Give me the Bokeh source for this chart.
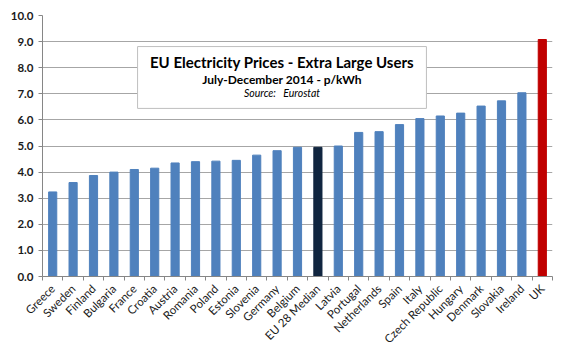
import math
from bokeh.plotting import figure
from bokeh.models import ColumnDataSource, FixedTicker, BoxAnnotation, Label, Range1d, PrintfTickFormatter
from bokeh.embed import file_html
from bokeh.resources import INLINE

countries = ["Greece", "Sweden", "Finland", "Bulgaria", "France", "Croatia", "Austria",
             "Romania", "Poland", "Estonia", "Slovenia", "Germany", "Belgium", "EU 28 Median",
             "Latvia", "Portugal", "Netherlands", "Spain", "Italy", "Czech Republic",
             "Hungary", "Denmark", "Slovakia", "Ireland", "UK"]
prices = [3.24, 3.60, 3.87, 4.00, 4.10, 4.15, 4.35, 4.40, 4.42, 4.45, 4.65, 4.82, 4.95, 4.95,
          5.00, 5.52, 5.55, 5.82, 6.05, 6.15, 6.26, 6.53, 6.73, 7.04, 9.08]
y_ticks = [0, 1, 2, 3, 4, 5, 6, 7, 8, 9, 10]

BLUE = "#4F81BD"
NAVY = "#10253F"
RED = "#C00000"
colors = [NAVY if c == "EU 28 Median" else (RED if c == "UK" else BLUE) for c in countries]

xs = list(range(len(countries)))
src = ColumnDataSource(dict(x=xs, top=prices, color=colors, name=countries))

FONT = "Lato"
p = figure(width=567, height=353, output_backend="svg", toolbar_location=None,
           x_range=Range1d(-0.5, len(countries) - 0.5), y_range=Range1d(0, 10),
           min_border_left=42, min_border_right=15, min_border_top=15, min_border_bottom=77)
p.vbar(x="x", top="top", width=0.4, color="color", source=src)

p.outline_line_color = None
p.background_fill_color = "white"
p.border_fill_color = "white"

# grid
p.xgrid.grid_line_color = None
p.ygrid.grid_line_color = "#A6A6A6"
p.ygrid.ticker = FixedTicker(ticks=y_ticks)

# y axis
p.yaxis.ticker = FixedTicker(ticks=y_ticks)
p.yaxis.formatter = PrintfTickFormatter(format="%.1f")
p.yaxis.axis_line_color = "#868686"
p.yaxis.major_tick_line_color = "#868686"
p.yaxis.major_tick_in = 0
p.yaxis.major_tick_out = 4
p.yaxis.minor_tick_line_color = None
p.yaxis.major_label_text_font = FONT
p.yaxis.major_label_text_font_style = "bold"
p.yaxis.major_label_text_font_size = "11.5px"
p.yaxis.major_label_text_color = "#1a1a1a"
p.yaxis.major_label_standoff = 5

# x axis: labels at bar centres, ticks between categories
p.xaxis.ticker = FixedTicker(ticks=xs, minor_ticks=[i - 0.5 for i in range(len(countries) + 1)])
p.xaxis.major_label_overrides = {i: c for i, c in enumerate(countries)}
p.xaxis.major_tick_line_color = None
p.xaxis.major_tick_in = 0
p.xaxis.major_tick_out = 3
p.xaxis.minor_tick_line_color = "#868686"
p.xaxis.minor_tick_in = 0
p.xaxis.minor_tick_out = 4
p.xaxis.axis_line_color = "#868686"
p.xaxis.major_label_orientation = math.pi / 4
p.xaxis.major_label_text_font = FONT
p.xaxis.major_label_text_font_size = "11.5px"
p.xaxis.major_label_text_color = "#1a1a1a"
p.xaxis.major_label_standoff = 6

# title box
p.add_layout(BoxAnnotation(left=4.16, right=18.32, top=8.81, bottom=6.44,
                           fill_color="white", fill_alpha=1.0,
                           line_color="#BFBFBF", line_alpha=1.0, line_width=1))
cx = 11.24
for txt, yy, style, size in [("EU Electricity Prices - Extra Large Users", 8.21, "bold", "15px"),
                             ("July-December 2014 - p/kWh", 7.55, "bold", "12px"),
                             ("Source:\u00a0\u00a0\u00a0Eurostat", 7.03, "italic", "10.5px")]:
    p.add_layout(Label(x=cx, y=yy, text=txt, text_align="center", text_baseline="middle",
                       text_font=FONT, text_font_style=style, text_font_size=size,
                       text_color="black", level="overlay"))

# outer chart border
p.add_layout(BoxAnnotation(left=2, right=564, top=3, bottom=351,
                           left_units="canvas", right_units="canvas",
                           top_units="canvas", bottom_units="canvas",
                           fill_alpha=0, line_color="#8C8C8C", line_alpha=1.0, line_width=1,
                           level="overlay"))

open("out.html", "w").write(file_html(p, INLINE))
